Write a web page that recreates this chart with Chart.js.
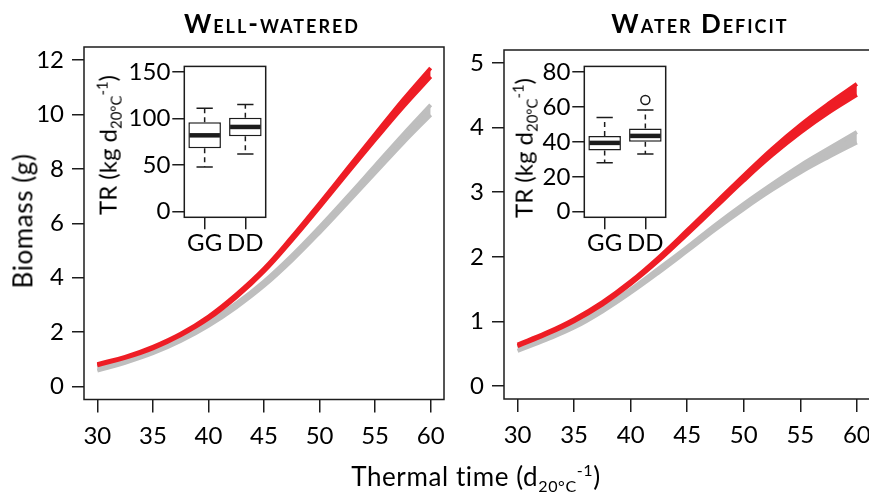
<!DOCTYPE html>
<html>
<head>
<meta charset="utf-8">
<script src="https://cdn.jsdelivr.net/npm/chart.js@4.4.1/dist/chart.umd.min.js"></script>
<style>
    body { margin: 0; background: #fff; font-family: Lato, sans-serif; color: #000; }
    #wrap { position: relative; width: 869px; height: 499px; overflow: hidden; }
    canvas { position: absolute; }
    .ttl { position: absolute; width: 240px; text-align: center; font-weight: bold; font-size: 26px;
           font-variant: small-caps; letter-spacing: 2px; line-height: 1.2; white-space: nowrap; }
    .axt { position: absolute; font-size: 24px; line-height: 1.2; white-space: nowrap; }
    .big { font-size: 26px; letter-spacing: 0.6px; }
    .rot { transform: translate(-50%, -50%) rotate(-90deg); }
    .lo { font-size: 0.62em; position: relative; top: 0.35em; }
    .hi { font-size: 0.62em; position: relative; top: -0.6em; }
</style>
</head>
<body>
<div id="wrap">
    <canvas id="wwMain" width="460" height="470" style="left:0;top:0"></canvas>
    <canvas id="wdMain" width="420" height="470" style="left:460px;top:0"></canvas>
    <canvas id="wwInset" width="160" height="210" style="left:120px;top:50px"></canvas>
    <canvas id="wdInset" width="160" height="210" style="left:530px;top:50px"></canvas>

    <div class="ttl" style="left:152px;top:8px">Well-watered</div>
    <div class="ttl" style="left:580px;top:8px">Water Deficit</div>

    <div class="axt big rot" style="left:23px;top:221px">Biomass (g)</div>
    <div class="axt rot" style="left:108px;top:145px">TR (kg d<span class="lo">20°C</span><span class="hi">-1</span>)</div>
    <div class="axt rot" style="left:524px;top:148px">TR (kg d<span class="lo">20°C</span><span class="hi">-1</span>)</div>
    <div class="axt big" style="left:476px;top:461px;transform:translateX(-50%)">Thermal time (d<span class="lo">20°C</span><span class="hi">-1</span>)</div>
</div>

<script>
// Temps thermique (axe x commun)
const thermalTime = [30, 32.5, 35, 37.5, 40, 42.5, 45, 47.5, 50, 52.5, 55, 57.5, 60];
const timeTicks = [30, 35, 40, 45, 50, 55, 60];

// Biomasse, bien irrigué : centre de chaque bande et demi-épaisseur
const wwDD = [0.80, 1.07, 1.43, 1.91, 2.53, 3.33, 4.28, 5.43, 6.66, 7.92, 9.17, 10.40, 11.55];
const wwDDSpread = [0.02, 0.02, 0.03, 0.03, 0.04, 0.05, 0.05, 0.06, 0.07, 0.08, 0.10, 0.13, 0.16];
const wwGG = [0.64, 0.93, 1.28, 1.74, 2.30, 2.98, 3.78, 4.72, 5.76, 6.86, 7.98, 9.10, 10.17];
const wwGGSpread = [0.06, 0.06, 0.06, 0.07, 0.07, 0.07, 0.08, 0.09, 0.10, 0.11, 0.13, 0.15, 0.18];
const wwBiomassTicks = [0, 2, 4, 6, 8, 10, 12];

// Biomasse, déficit hydrique
const wdDD = [0.63, 0.81, 1.02, 1.28, 1.60, 1.97, 2.38, 2.80, 3.22, 3.62, 3.98, 4.30, 4.59];
const wdDDSpread = [0.012, 0.012, 0.015, 0.018, 0.02, 0.025, 0.03, 0.035, 0.04, 0.05, 0.06, 0.07, 0.085];
const wdGG = [0.57, 0.74, 0.93, 1.18, 1.47, 1.79, 2.12, 2.46, 2.78, 3.08, 3.36, 3.61, 3.85];
const wdGGSpread = [0.025, 0.025, 0.025, 0.025, 0.025, 0.03, 0.03, 0.035, 0.04, 0.045, 0.055, 0.065, 0.08];
const wdBiomassTicks = [0, 1, 2, 3, 4, 5];

// Boîtes à moustaches TR
const genotypes = ['GG', 'DD'];
const wwTRLow = [48, 62];
const wwTRQ1 = [68, 81];
const wwTRMedian = [82, 91];
const wwTRQ3 = [96, 101];
const wwTRHigh = [111, 115];
const wwTROutliers = [[], []];
const wwTRTicks = [0, 50, 100, 150];

const wdTRLow = [28, 33];
const wdTRQ1 = [35, 40];
const wdTRMedian = [39.4, 43.4];
const wdTRQ3 = [43.4, 47.7];
const wdTRHigh = [54, 58.2];
const wdTROutliers = [[], [64]];
const wdTRTicks = [0, 20, 40, 60, 80];

const INK = '#1c1c1c';
const RED = '#ee1d25';
const GREY = '#bebebe';

Chart.defaults.font.family = 'Lato, sans-serif';
Chart.defaults.font.size = 24;
Chart.defaults.color = '#000';
Chart.defaults.animation = false;
Chart.defaults.responsive = false;
Chart.defaults.plugins.legend.display = false;
Chart.defaults.plugins.tooltip.enabled = false;

// Cadre complet autour de la zone de tracé
const frame = {
    id: 'frame',
    afterDraw(chart) {
        const a = chart.chartArea;
        const ctx = chart.ctx;
        ctx.save();
        ctx.strokeStyle = INK;
        ctx.lineWidth = 1.5;
        ctx.strokeRect(a.left, a.top, a.right - a.left, a.bottom - a.top);
        ctx.restore();
    }
};

function fixedTicks(list) {
    return scale => { scale.ticks = list.map(v => ({ value: v })); };
}

function tickGrid(len) {
    return { drawOnChartArea: false, tickLength: len, color: INK, lineWidth: 1.5 };
}

function band(center, spread, sign) {
    return thermalTime.map((t, i) => ({ x: t, y: center[i] + sign * spread[i] }));
}

function bandSets(center, spread, color) {
    return [
        { data: band(center, spread, -1), borderColor: color, fill: false },
        { data: band(center, spread, 1), borderColor: color, backgroundColor: color, fill: '-1' }
    ];
}

function biomassChart(id, pad, yWidth, xHeight, yMin, yMax, yTicks, dd, ddSpread, gg, ggSpread) {
    new Chart(document.getElementById(id), {
        type: 'line',
        data: { datasets: [...bandSets(dd, ddSpread, RED), ...bandSets(gg, ggSpread, GREY)] },
        options: {
            layout: { padding: pad },
            elements: {
                point: { radius: 0 },
                line: { borderWidth: 4, tension: 0.4 }
            },
            scales: {
                x: {
                    type: 'linear', min: 28.8, max: 61.2,
                    afterBuildTicks: fixedTicks(timeTicks),
                    afterFit: s => { s.height = xHeight; },
                    grid: tickGrid(13), border: { display: false },
                    ticks: { padding: 9, maxRotation: 0 }
                },
                y: {
                    min: yMin, max: yMax,
                    afterBuildTicks: fixedTicks(yTicks),
                    afterFit: s => { s.width = yWidth; },
                    grid: tickGrid(12), border: { display: false },
                    ticks: { padding: 8 }
                }
            }
        },
        plugins: [frame]
    });
}

// Moustaches, agrafes et médianes
function whiskers(low, q1, med, q3, high) {
    return {
        id: 'whiskers',
        afterDatasetsDraw(chart) {
            const ctx = chart.ctx;
            const y = chart.scales.y;
            ctx.save();
            ctx.strokeStyle = INK;
            chart.getDatasetMeta(0).data.forEach((bar, i) => {
                const cx = bar.x;
                const half = bar.width / 2;
                ctx.lineWidth = 1.5;
                ctx.setLineDash([5, 4]);
                ctx.beginPath();
                ctx.moveTo(cx, y.getPixelForValue(q3[i]));
                ctx.lineTo(cx, y.getPixelForValue(high[i]));
                ctx.moveTo(cx, y.getPixelForValue(q1[i]));
                ctx.lineTo(cx, y.getPixelForValue(low[i]));
                ctx.stroke();
                ctx.setLineDash([]);
                ctx.beginPath();
                [high[i], low[i]].forEach(v => {
                    ctx.moveTo(cx - half / 2, y.getPixelForValue(v));
                    ctx.lineTo(cx + half / 2, y.getPixelForValue(v));
                });
                ctx.stroke();
                ctx.lineWidth = 4.5;
                ctx.beginPath();
                ctx.moveTo(cx - half + 1, y.getPixelForValue(med[i]));
                ctx.lineTo(cx + half - 1, y.getPixelForValue(med[i]));
                ctx.stroke();
            });
            ctx.restore();
        }
    };
}

function trChart(id, pad, yWidth, yMin, yMax, yTicks, low, q1, med, q3, high, outliers) {
    const outPoints = [];
    outliers.forEach((list, i) => list.forEach(v => outPoints.push({ x: genotypes[i], y: v })));
    new Chart(document.getElementById(id), {
        type: 'bar',
        data: {
            labels: genotypes,
            datasets: [
                {
                    data: genotypes.map((g, i) => [q1[i], q3[i]]),
                    backgroundColor: '#fff', borderColor: INK, borderWidth: 1.5,
                    borderSkipped: false, barPercentage: 0.8, categoryPercentage: 1
                },
                {
                    type: 'scatter', data: outPoints,
                    pointRadius: 4.5, pointBackgroundColor: '#fff',
                    pointBorderColor: INK, pointBorderWidth: 1.5
                }
            ]
        },
        options: {
            layout: { padding: pad },
            scales: {
                x: {
                    type: 'category', offset: true,
                    afterFit: s => { s.height = 42.7; },
                    grid: Object.assign(tickGrid(12), { offset: false }), border: { display: false },
                    ticks: { padding: 0, autoSkip: false, maxRotation: 0, minRotation: 0 }
                },
                y: {
                    min: yMin, max: yMax,
                    afterBuildTicks: fixedTicks(yTicks),
                    afterFit: s => { s.width = yWidth; },
                    grid: tickGrid(12), border: { display: false },
                    ticks: { padding: 2 }
                }
            }
        },
        plugins: [frame, whiskers(low, q1, med, q3, high)]
    });
}

biomassChart('wwMain', { left: 0, top: 47, right: 16, bottom: 0 }, 84, 70.5, -0.48, 12.48,
    wwBiomassTicks, wwDD, wwDDSpread, wwGG, wwGGSpread);
biomassChart('wdMain', { left: 0, top: 50, right: 6, bottom: 0 }, 44, 71, -0.2, 5.2,
    wdBiomassTicks, wdDD, wdDDSpread, wdGG, wdGGSpread);

trChart('wwInset', { left: 0, top: 15.7, right: 14.3, bottom: 0 }, 64.3, -6, 156, wwTRTicks,
    wwTRLow, wwTRQ1, wwTRMedian, wwTRQ3, wwTRHigh, wwTROutliers);
trChart('wdInset', { left: 0, top: 15, right: 24.3, bottom: 0 }, 54.3, -3.2, 83.2, wdTRTicks,
    wdTRLow, wdTRQ1, wdTRMedian, wdTRQ3, wdTRHigh, wdTROutliers);
</script>
</body>
</html>
